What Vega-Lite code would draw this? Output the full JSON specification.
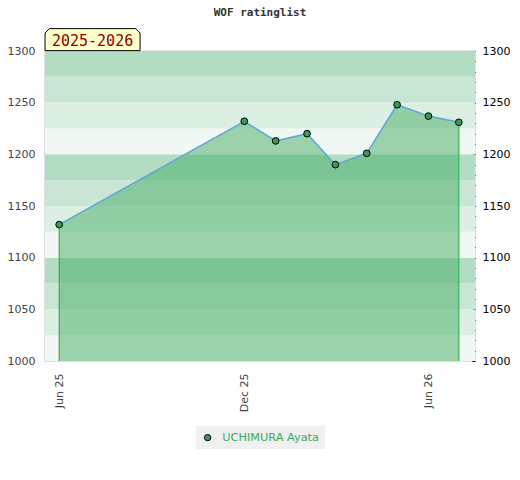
{
  "$schema": "https://vega.github.io/schema/vega-lite/v6.json",
  "width": 430,
  "height": 310,
  "padding": {"left": 7, "top": 6, "right": 5, "bottom": 5},
  "background": "white",
  "title": {
    "text": "WOF ratinglist",
    "font": "DejaVu Sans Mono",
    "fontSize": 11,
    "fontWeight": "bold",
    "color": "#333333",
    "anchor": "middle",
    "offset": 9
  },
  "datasets": {
    "ratings": [
      {"date": "2025-06-01", "rating": 1132, "player": "UCHIMURA Ayata"},
      {"date": "2025-12-01", "rating": 1232, "player": "UCHIMURA Ayata"},
      {"date": "2026-01-01", "rating": 1213, "player": "UCHIMURA Ayata"},
      {"date": "2026-02-01", "rating": 1220, "player": "UCHIMURA Ayata"},
      {"date": "2026-03-01", "rating": 1190, "player": "UCHIMURA Ayata"},
      {"date": "2026-04-01", "rating": 1201, "player": "UCHIMURA Ayata"},
      {"date": "2026-05-01", "rating": 1248, "player": "UCHIMURA Ayata"},
      {"date": "2026-06-01", "rating": 1237, "player": "UCHIMURA Ayata"},
      {"date": "2026-07-01", "rating": 1231, "player": "UCHIMURA Ayata"}
    ],
    "bands": [
      {"lo": 1000, "hi": 1025, "shade": 4},
      {"lo": 1025, "hi": 1050, "shade": 3},
      {"lo": 1050, "hi": 1075, "shade": 2},
      {"lo": 1075, "hi": 1100, "shade": 1},
      {"lo": 1100, "hi": 1125, "shade": 4},
      {"lo": 1125, "hi": 1150, "shade": 3},
      {"lo": 1150, "hi": 1175, "shade": 2},
      {"lo": 1175, "hi": 1200, "shade": 1},
      {"lo": 1200, "hi": 1225, "shade": 4},
      {"lo": 1225, "hi": 1250, "shade": 3},
      {"lo": 1250, "hi": 1275, "shade": 2},
      {"lo": 1275, "hi": 1300, "shade": 1}
    ]
  },
  "layer": [
    {
      "data": {"name": "bands"},
      "mark": {"type": "rect"},
      "encoding": {
        "y": {
          "field": "lo",
          "type": "quantitative",
          "scale": {"domain": [1000, 1300], "zero": false, "nice": false},
          "axis": {
            "orient": "left",
            "title": null,
            "format": "d",
            "values": [1000, 1050, 1100, 1150, 1200, 1250, 1300],
            "domain": false,
            "ticks": false,
            "grid": false,
            "labelColor": "#444444",
            "labelFont": "DejaVu Sans",
            "labelFontSize": 11,
            "labelPadding": 10
          }
        },
        "y2": {"field": "hi"},
        "fill": {
          "field": "shade",
          "type": "ordinal",
          "scale": {"domain": [1, 2, 3, 4], "range": ["#b3ddc3", "#c9e6d4", "#dcefe3", "#eff8f2"]},
          "legend": null
        }
      }
    },
    {
      "data": {"name": "ratings"},
      "mark": {"type": "area", "color": "#3ea960", "opacity": 0.48},
      "encoding": {
        "x": {
          "field": "date",
          "type": "temporal",
          "scale": {
            "type": "utc",
            "domain": [
              {"year": 2025, "month": 5, "date": 18, "utc": true},
              {"year": 2026, "month": 7, "date": 17, "utc": true}
            ]
          },
          "axis": {
            "title": null,
            "values": [
              {"year": 2025, "month": 6, "date": 1, "utc": true},
              {"year": 2025, "month": 12, "date": 1, "utc": true},
              {"year": 2026, "month": 6, "date": 1, "utc": true}
            ],
            "format": "%b %y",
            "labelAngle": -90,
            "labelColor": "#444444",
            "labelFont": "DejaVu Sans",
            "labelFontSize": 11,
            "labelPadding": 12,
            "domain": false,
            "ticks": false,
            "grid": false
          }
        },
        "y": {"field": "rating", "type": "quantitative", "axis": null},
        "y2": {"datum": 1000}
      }
    },
    {
      "data": {"name": "ratings"},
      "transform": [{"filter": "year(datum.date) == 2025 && month(datum.date) == 5"}],
      "mark": {"type": "rule", "color": "#3b9455", "strokeWidth": 1},
      "encoding": {
        "x": {"field": "date", "type": "temporal"},
        "y": {"field": "rating", "type": "quantitative", "axis": null},
        "y2": {"datum": 1000}
      }
    },
    {
      "data": {"name": "ratings"},
      "transform": [{"filter": "year(datum.date) == 2026 && month(datum.date) == 6"}],
      "mark": {"type": "rule", "color": "#33b557", "strokeWidth": 1.2},
      "encoding": {
        "x": {"field": "date", "type": "temporal"},
        "y": {"field": "rating", "type": "quantitative", "axis": null},
        "y2": {"datum": 1000}
      }
    },
    {
      "data": {"name": "ratings"},
      "mark": {"type": "line", "color": "#5ea6dc", "strokeWidth": 1.5},
      "encoding": {
        "x": {"field": "date", "type": "temporal"},
        "y": {
          "field": "rating",
          "type": "quantitative",
          "axis": {
            "orient": "right",
            "title": null,
            "format": "d",
            "values": [1000, 1010, 1020, 1030, 1040, 1050, 1060, 1070, 1080, 1090, 1100, 1110, 1120, 1130, 1140, 1150, 1160, 1170, 1180, 1190, 1200, 1210, 1220, 1230, 1240, 1250, 1260, 1270, 1280, 1290, 1300],
            "labelExpr": "datum.value % 50 == 0 ? datum.label : ''",
            "domain": false,
            "grid": false,
            "ticks": true,
            "tickSize": -3,
            "tickColor": "black",
            "tickWidth": 1,
            "labelColor": "black",
            "labelFont": "DejaVu Sans",
            "labelFontSize": 11,
            "labelPadding": 10
          }
        }
      }
    },
    {
      "data": {"name": "ratings"},
      "mark": {"type": "point", "filled": true, "size": 45, "stroke": "black", "strokeWidth": 1, "opacity": 1},
      "encoding": {
        "x": {"field": "date", "type": "temporal"},
        "y": {"field": "rating", "type": "quantitative", "axis": null},
        "color": {
          "field": "player",
          "type": "nominal",
          "scale": {"range": ["#3a9a5a"]},
          "legend": {
            "title": null,
            "orient": "none",
            "legendX": 151,
            "legendY": 375,
            "direction": "horizontal",
            "fillColor": "#f0f0f0",
            "padding": 6,
            "labelOffset": 9,
            "symbolStrokeColor": "black",
            "symbolStrokeWidth": 1,
            "symbolSize": 40,
            "labelColor": "#3aaa5a",
            "labelFont": "DejaVu Sans",
            "labelFontSize": 11.3
          }
        }
      }
    },
    {
      "data": {"values": [{"season": "2025-2026"}]},
      "mark": {
        "type": "point",
        "filled": true,
        "fill": "#ffffcc",
        "stroke": "black",
        "strokeWidth": 1,
        "opacity": 1,
        "shape": "M-1,0.2316 L-1,-0.14 L-0.91,-0.2316 L0.91,-0.2316 L1,-0.14 L1,0.2316 Z",
        "size": 9025
      },
      "encoding": {
        "x": {"datum": {"year": 2025, "month": 7, "date": 4, "utc": true}, "type": "temporal"},
        "y": {"datum": 1311, "type": "quantitative", "axis": null}
      }
    },
    {
      "data": {"values": [{"season": "2025-2026"}]},
      "mark": {"type": "text", "font": "DejaVu Sans Mono", "fontSize": 15, "color": "#8b0000", "align": "center", "baseline": "middle", "dy": 1},
      "encoding": {
        "x": {"datum": {"year": 2025, "month": 7, "date": 4, "utc": true}, "type": "temporal"},
        "y": {"datum": 1311, "type": "quantitative", "axis": null},
        "text": {"field": "season"}
      }
    }
  ],
  "resolve": {"axis": {"y": "independent"}, "scale": {"color": "independent"}},
  "config": {
    "view": {"stroke": "#d6d6d6", "strokeWidth": 1.5}
  }
}
